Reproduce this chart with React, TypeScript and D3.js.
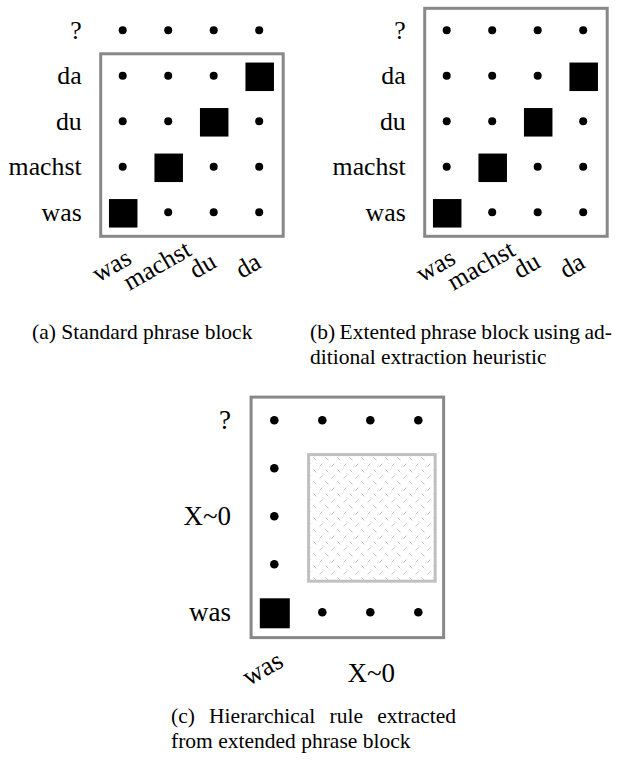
import React, { useEffect, useRef } from "react";
import * as d3 from "d3";

// source words (columns, left to right) and target words (rows, bottom to top)
const srcWords = ["was", "machst", "du", "da"];
const tgtWords = ["was", "machst", "du", "da", "?"];
// word alignment points as [source index, target index]
const alignment = [[0, 0], [1, 1], [2, 2], [3, 3]];

// phrase blocks: [first, last] index ranges
const blockA = { src: [0, 3], tgt: [0, 3] };
const blockB = { src: [0, 3], tgt: [0, 4] };

// hierarchical rule: labels collapsed over index ranges, the gap replaced by X~0
const hierRowLabels = [
  { label: "was", span: [0, 0] },
  { label: "X~0", span: [1, 3] },
  { label: "?", span: [4, 4] },
];
const hierColLabels = [
  { label: "was", span: [0, 0], rotate: true },
  { label: "X~0", span: [1, 3], rotate: false },
];
const hierAlignment = [[0, 0]];
const hierGap = { src: [1, 3], tgt: [1, 3] };

const captionA = [["(a)", "Standard", "phrase", "block"]];
const captionB = [
  ["(b)", "Extented", "phrase", "block", "using", "ad-"],
  ["ditional", "extraction", "heuristic"],
];
const captionC = [
  ["(c)", "Hierarchical", "rule", "extracted"],
  ["from", "extended", "phrase", "block"],
];

const FONT = "Liberation Serif";

const App = () => {
  const ref = useRef<SVGSVGElement>(null);

  useEffect(() => {
    const svg = d3.select(ref.current);
    svg.selectAll("*").remove();

    const defs = svg.append("defs");
    const pat = defs.append("pattern")
      .attr("id", "hatch")
      .attr("patternUnits", "userSpaceOnUse")
      .attr("width", 12)
      .attr("height", 12);
    pat.append("path").attr("d", "M1.5,1.5 L4.5,4.5").attr("stroke", "#c4c4c4").attr("stroke-width", 1);
    pat.append("path").attr("d", "M7.5,10.5 L10.5,7.5").attr("stroke", "#c4c4c4").attr("stroke-width", 1);

    const drawPanel = (opts) => {
      const { x0, y0, step, font, block, gap, links, rowLabels, colLabels, dotR, sq } = opts;
      const g = svg.append("g");
      const x = d3.scalePoint().domain(d3.range(srcWords.length)).range([x0, x0 + step * (srcWords.length - 1)]);
      const y = d3.scalePoint().domain(d3.range(tgtWords.length)).range([y0, y0 - step * (tgtWords.length - 1)]);
      const k = step / 45.5;

      // phrase block frame
      g.append("rect")
        .attr("x", x(block.src[0]) - 22 * k)
        .attr("y", y(block.tgt[1]) - 22 * k)
        .attr("width", x(block.src[1]) - x(block.src[0]) + 46 * k)
        .attr("height", y(block.tgt[0]) - y(block.tgt[1]) + 46 * k)
        .attr("fill", "none")
        .attr("stroke", "#888")
        .attr("stroke-width", 3);

      // gap (sub-phrase replaced by a non-terminal)
      if (gap) {
        g.append("rect")
          .attr("x", x(gap.src[0]) - 13 * k)
          .attr("y", y(gap.tgt[1]) - 13 * k)
          .attr("width", x(gap.src[1]) - x(gap.src[0]) + 29 * k)
          .attr("height", y(gap.tgt[0]) - y(gap.tgt[1]) + 29 * k)
          .attr("fill", "url(#hatch)")
          .attr("stroke", "#c0c0c0")
          .attr("stroke-width", 3);
      }

      const inGap = (s, t) => gap && s >= gap.src[0] && s <= gap.src[1] && t >= gap.tgt[0] && t <= gap.tgt[1];
      const isLink = (s, t) => links.some((l) => l[0] === s && l[1] === t);
      const cells = d3.cross(d3.range(srcWords.length), d3.range(tgtWords.length));

      g.selectAll(".dot")
        .data(cells.filter(([s, t]) => !inGap(s, t) && !isLink(s, t)))
        .enter().append("circle")
        .attr("cx", (d) => x(d[0]))
        .attr("cy", (d) => y(d[1]))
        .attr("r", dotR)
        .attr("fill", "#000");

      g.selectAll(".sq")
        .data(links)
        .enter().append("rect")
        .attr("x", (d) => x(d[0]) - sq / 2 + 0.5)
        .attr("y", (d) => y(d[1]) - sq / 2 + 1)
        .attr("width", sq)
        .attr("height", sq)
        .attr("fill", "#000");

      // row labels
      const labelX = x(0) - 41 * k;
      g.selectAll(".rl")
        .data(rowLabels)
        .enter().append("text")
        .attr("x", labelX)
        .attr("y", (d) => (y(d.span[0]) + y(d.span[1])) / 2)
        .attr("dy", "0.33em")
        .attr("text-anchor", "end")
        .style("font-family", FONT)
        .attr("font-size", font)
        .text((d) => d.label);

      // column labels
      const frameBottom = y(block.tgt[0]) + 24 * k;
      colLabels.forEach((d) => {
        const cx = (x(d.span[0]) + x(d.span[1])) / 2;
        if (d.rotate) {
          g.append("text")
            .attr("transform", `translate(${cx - 7 * k},${frameBottom + 36.5 * k}) rotate(-30)`)
            .attr("text-anchor", "middle")
            .style("font-family", FONT)
            .attr("font-size", font)
            .text(d.label);
        } else {
          g.append("text")
            .attr("x", cx + 1)
            .attr("y", frameBottom + 42 * k)
            .attr("text-anchor", "middle")
            .style("font-family", FONT)
            .attr("font-size", font)
            .text(d.label);
        }
      });
    };

    const tgtRowLabels = tgtWords.map((w, i) => ({ label: w, span: [i, i] }));
    const srcColLabels = srcWords.map((w, i) => ({ label: w, span: [i, i], rotate: true }));

    drawPanel({
      x0: 122.7, y0: 212.3, step: 45.5, font: 25.8, block: blockA, gap: null,
      links: alignment, rowLabels: tgtRowLabels, colLabels: srcColLabels, dotR: 4, sq: 28.5,
    });
    drawPanel({
      x0: 446.7, y0: 212.3, step: 45.5, font: 25.8, block: blockB, gap: null,
      links: alignment, rowLabels: tgtRowLabels, colLabels: srcColLabels, dotR: 4, sq: 28.5,
    });
    drawPanel({
      x0: 274.3, y0: 612.3, step: 48, font: 27, block: blockB, gap: hierGap,
      links: hierAlignment, rowLabels: hierRowLabels, colLabels: hierColLabels, dotR: 4.3, sq: 30,
    });

    // captions, justified lines except the last line of each paragraph
    const caption = (lines, x0, x1, y0) => {
      lines.forEach((words, li) => {
        const last = li === lines.length - 1;
        const ts = words.map((w) =>
          svg.append("text")
            .attr("y", y0 + li * 25)
            .style("font-family", FONT)
            .attr("font-size", 21.5)
            .text(w)
        );
        const widths = ts.map((t) => t.node().getComputedTextLength());
        const total = d3.sum(widths);
        const space = last ? 5.4 : (x1 - x0 - total) / (words.length - 1);
        let cx = x0;
        ts.forEach((t, i) => {
          t.attr("x", cx);
          cx += widths[i] + space;
        });
      });
    };
    caption(captionA, 32, 254, 339);
    caption(captionB, 310, 612, 339);
    caption(captionC, 171, 456, 723);
  }, []);

  return (
    <svg
      ref={ref}
      width={618}
      height={774}
      style={{ position: "absolute", left: 0, top: 0, background: "#fff" }}
    ></svg>
  );
};

export default App;
